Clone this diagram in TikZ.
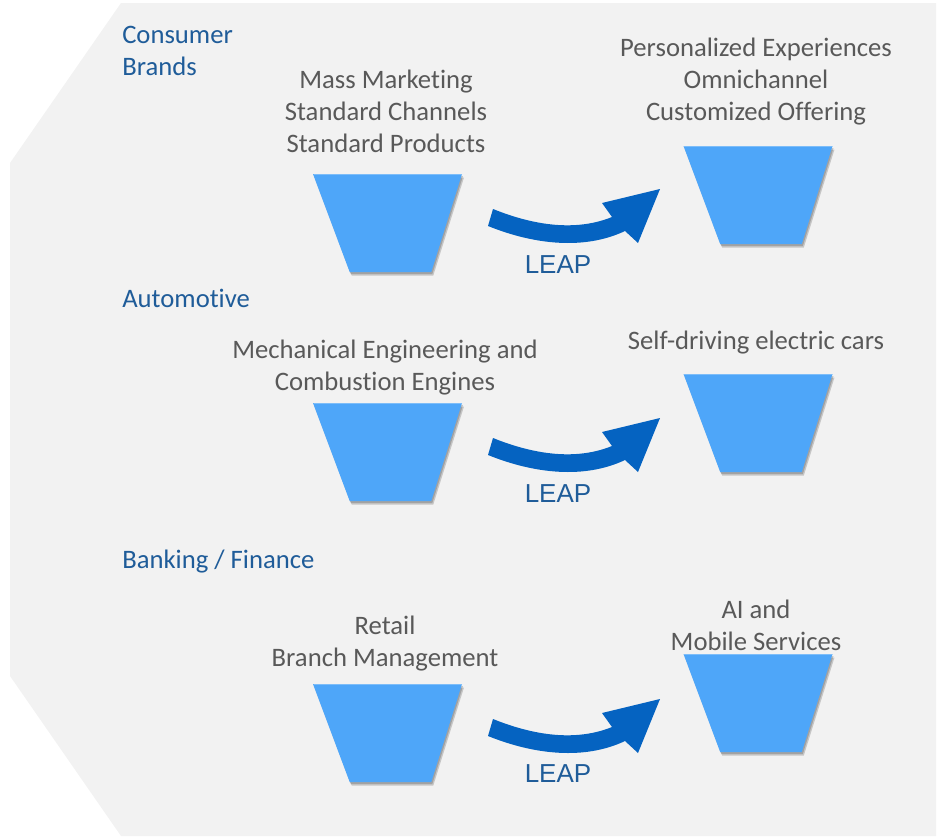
\documentclass[tikz,border=0pt]{standalone}
\usepackage{fontspec}
\setmainfont{Carlito}[Ligatures=NoCommon]
\newfontfamily\leapfont{Liberation Sans}
\definecolor{bggray}{HTML}{F2F2F2}
\definecolor{funnelblue}{HTML}{4EA6F9}
\definecolor{funneltop}{HTML}{7DBDF9}
\definecolor{arrowblue}{HTML}{0563C1}
\definecolor{txtgray}{HTML}{595959}
\definecolor{catblue}{HTML}{1F5C99}
\begin{document}
\begin{tikzpicture}[x=0.75pt,y=-0.75pt,
  lbl/.style={font=\fontsize{20}{24}\selectfont, text=txtgray, align=center, inner sep=0pt, anchor=base},
  cat/.style={font=\fontsize{20}{24}\selectfont, text=catblue, align=left, inner sep=0pt, anchor=base west},
  leap/.style={font=\leapfont\fontsize{19.5}{24}\selectfont, text=catblue, inner sep=0pt, anchor=base},
  funnelfill/.style={fill=funnelblue},
  fshadow/.style={fill=black, opacity=0.18},
  arrowfill/.style={fill=arrowblue},
  funnelshape/.pic={
    \fill[fshadow] (2,3.5) -- (151,3.5) -- (120.3,101.5) -- (38.7,101.5) -- cycle;
    \fill[fshadow] (1,2) -- (150,2) -- (119.3,100) -- (37.7,100) -- cycle;
    \fill[funnelfill] (0,0) -- (149,0) -- (118.3,98) -- (36.7,98) -- cycle;
    \draw[funneltop, line width=0.8pt] (0.5,0.6) -- (148.5,0.6);
  },
  leaparrow/.pic={
    \fill[arrowfill] (493,209) .. controls (540,228) and (580,230) .. (612,217)
      -- (602,203) -- (660,189) -- (638,243) -- (625,231)
      .. controls (585,250) and (535,245) .. (488,226) -- cycle;
  }]
\useasboundingbox (0,0) rectangle (938,836);
% background panel
\fill[bggray] (121,3) -- (936,3) -- (936,836) -- (121,836) -- (10,676) -- (10,163) -- cycle;

% category labels (anchor = baseline of last line)
\node[cat] (c1) at (122,75) {Consumer\\Brands};
\node[cat] (c2) at (122,307) {Automotive};
\node[cat] (c3) at (122,568) {Banking / Finance};

% funnels
\pic (f1l) at (313,174) {funnelshape};
\pic (f1r) at (683.5,146) {funnelshape};
\pic (f2l) at (313,403) {funnelshape};
\pic (f2r) at (683.5,374) {funnelshape};
\pic (f3l) at (313,684) {funnelshape};
\pic (f3r) at (683.5,654) {funnelshape};

% arrows
\pic (a1) at (0,0) {leaparrow};
\pic (a2) at (0,229) {leaparrow};
\pic (a3) at (0,510) {leaparrow};

% texts (anchor = baseline of last line)
\node[lbl] (t1l) at (386,152) {Mass Marketing\\Standard Channels\\Standard Products};
\node[lbl] (t1r) at (756,120) {Personalized Experiences\\Omnichannel\\Customized Offering};
\node[lbl] (t2l) at (385,390) {Mechanical Engineering and\\Combustion Engines};
\node[lbl] (t2r) at (756,349) {Self-driving electric cars};
\node[lbl] (t3l) at (385,666) {Retail\\Branch Management};
\node[lbl] (t3r) at (756,650) {AI and\\Mobile Services};

\node[leap] (l1) at (558,273) {LEAP};
\node[leap] (l2) at (558,502) {LEAP};
\node[leap] (l3) at (558,782) {LEAP};
\end{tikzpicture}
\end{document}
